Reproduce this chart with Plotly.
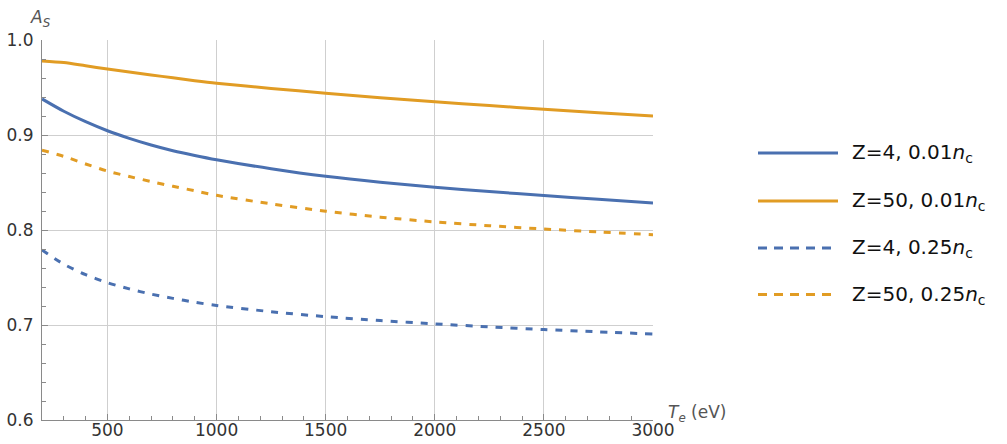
import plotly.graph_objects as go

# ---- data ----
Te = [200, 300, 400, 500, 600, 700, 800, 900, 1000, 1250, 1500, 1750, 2000, 2250, 2500, 2750, 3000]
As_Z4_001 = [0.938, 0.925, 0.914, 0.9045, 0.8965, 0.8895, 0.8835, 0.8785, 0.874, 0.8645,
             0.8565, 0.8502, 0.845, 0.8405, 0.8363, 0.8323, 0.8285]
As_Z50_001 = [0.978, 0.9762, 0.9728, 0.9694, 0.9662, 0.9632, 0.9602, 0.9572, 0.9545, 0.949,
              0.944, 0.9393, 0.935, 0.931, 0.927, 0.9235, 0.920]
As_Z4_025 = [0.779, 0.764, 0.753, 0.7445, 0.738, 0.7325, 0.728, 0.724, 0.7205, 0.714,
             0.7088, 0.7047, 0.7012, 0.698, 0.6952, 0.6928, 0.6905]
As_Z50_025 = [0.884, 0.8775, 0.8695, 0.862, 0.8563, 0.851, 0.846, 0.8413, 0.8365, 0.8275,
              0.8198, 0.8135, 0.8085, 0.8045, 0.801, 0.798, 0.795]

series_names = [
    "Z=4, 0.01<i>n</i><sub>c</sub>",
    "Z=50, 0.01<i>n</i><sub>c</sub>",
    "Z=4, 0.25<i>n</i><sub>c</sub>",
    "Z=50, 0.25<i>n</i><sub>c</sub>",
]
series_values = [As_Z4_001, As_Z50_001, As_Z4_025, As_Z50_025]
x_ticks = [500, 1000, 1500, 2000, 2500, 3000]
y_ticks = [0.6, 0.7, 0.8, 0.9, 1.0]

BLUE = "#4a70b0"
ORANGE = "#e19c24"
colors = [BLUE, ORANGE, BLUE, ORANGE]
dashes = ["solid", "solid", "7px,8px", "7px,8px"]

FONT = "DejaVu Sans"

fig = go.Figure()
for name, vals, c, d in zip(series_names, series_values, colors, dashes):
    fig.add_trace(go.Scatter(
        x=Te, y=vals, mode="lines", name=name,
        line=dict(color=c, width=3, dash=d, shape="spline", smoothing=0.8),
        showlegend=False, hoverinfo="skip",
    ))

# plot-area geometry in pixels
L, R, T, B = 42, 653, 40, 420
W, H = 1007, 444
pw, ph = R - L, B - T

def px(x):
    return (x - L) / pw

def py(y):
    return (B - y) / ph

# manual legend (long line samples like the reference)
legend_rows = [153, 201, 248, 294.5]
shapes = []
annotations = []
for name, c, d, ry in zip(series_names, colors, dashes, legend_rows):
    shapes.append(dict(type="line", xref="paper", yref="paper",
                       x0=px(758), x1=px(838), y0=py(ry), y1=py(ry),
                       line=dict(color=c, width=3, dash=d if d == "solid" else "9px,7px")))
    annotations.append(dict(xref="paper", yref="paper", x=px(850), y=py(ry),
                            xanchor="left", yanchor="middle", showarrow=False,
                            text=name, font=dict(family=FONT, size=20, color="#111")))

# axis titles
annotations.append(dict(xref="paper", yref="paper", x=px(666), y=py(413),
                        xanchor="left", yanchor="middle", showarrow=False,
                        text="<i>T</i><sub><i>e</i></sub> (eV)",
                        font=dict(family=FONT, size=17, color="#555")))
annotations.append(dict(xref="paper", yref="paper", x=px(28), y=py(18),
                        xanchor="left", yanchor="middle", showarrow=False,
                        text="<i>A</i><sub><i>S</i></sub>",
                        font=dict(family=FONT, size=17, color="#555")))

axis_common = dict(
    showline=True, linecolor="#8a8a8a", linewidth=1,
    showgrid=True, gridcolor="#cfcfcf", gridwidth=1,
    zeroline=False, ticks="inside", ticklen=6, tickcolor="#8a8a8a",
    tickfont=dict(family=FONT, size=17, color="#333"),
    mirror=False, automargin=False,
)

fig.update_xaxes(range=[200, 3000], tickvals=x_ticks, ticktext=[str(v) for v in x_ticks],
                 minor=dict(dtick=100, tick0=0, ticks="inside", ticklen=4,
                            tickcolor="#8a8a8a", showgrid=False),
                 ticklabelstandoff=-5, **axis_common)
fig.update_yaxes(range=[0.6, 1.0], tickvals=y_ticks, ticktext=[f"{v:.1f}" for v in y_ticks],
                 minor=dict(dtick=0.02, tick0=0.6, ticks="inside", ticklen=4,
                            tickcolor="#8a8a8a", showgrid=False),
                 ticklabelstandoff=4, **axis_common)

fig.update_layout(
    width=W, height=H,
    margin=dict(l=L, r=W - R, t=T, b=H - B, pad=0, autoexpand=False),
    paper_bgcolor="white", plot_bgcolor="white",
    shapes=shapes, annotations=annotations,
    showlegend=False,
    font=dict(family=FONT),
)

fig.write_html("out.html")
